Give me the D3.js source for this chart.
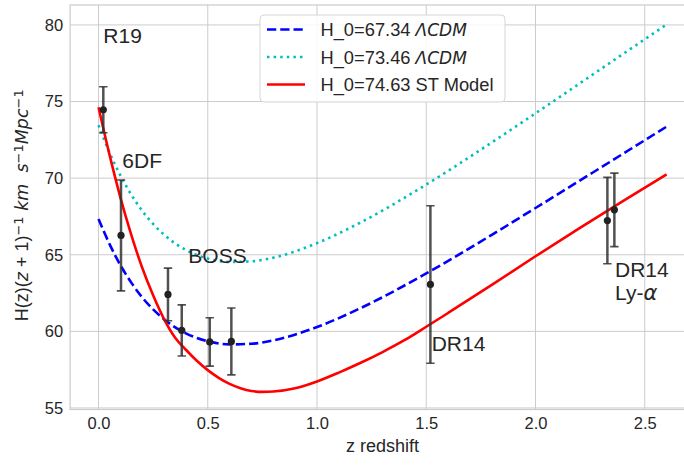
<!DOCTYPE html>
<html>
<head>
<meta charset="utf-8">
<script src="https://cdn.jsdelivr.net/npm/d3@7"></script>
<style>
  body { margin: 0; background: #fff; }
  svg { display: block; font-family: "Liberation Sans", Arial, sans-serif; }
</style>
</head>
<body>
<div id="chart"></div>
<script>
// ----- data -----
const zModel = [0, 0.05, 0.1, 0.15, 0.2, 0.3, 0.4, 0.5, 0.6, 0.7, 0.8, 1.0, 1.2, 1.5, 1.8, 2.0, 2.3, 2.6];
const lcdmLow = [67.34, 65.71, 64.33, 63.18, 62.22, 60.79, 59.87, 59.36, 59.15, 59.19, 59.41, 60.28, 61.52, 63.78, 66.30, 68.05, 70.70, 73.36];
const lcdmHigh = [73.46, 71.68, 70.18, 68.92, 67.87, 66.31, 65.31, 64.75, 64.53, 64.57, 64.81, 65.76, 67.11, 69.58, 72.33, 74.23, 77.13, 80.03];

// ST model curve, read on a finer z grid
const zST = [0, 0.05, 0.1, 0.15, 0.2, 0.25, 0.3, 0.35, 0.4, 0.45, 0.5, 0.55, 0.6, 0.65, 0.7, 0.75, 0.8, 0.9, 1.0, 1.1, 1.2, 1.3, 1.4, 1.5, 1.6, 1.8, 2.0, 2.2, 2.4, 2.6];
const stModel = [74.63, 71.55, 68.75, 66.3, 64.15, 62.35, 60.8, 59.6, 58.8, 58.08, 57.47, 56.97, 56.57, 56.29, 56.11, 56.05, 56.07, 56.28, 56.73, 57.31, 57.95, 58.65, 59.42, 60.3, 61.2, 63.03, 64.9, 66.72, 68.5, 70.25];

const zObs = [0.022, 0.103, 0.318, 0.381, 0.509, 0.608, 1.519, 2.329, 2.361];
const hObs = [74.46, 66.26, 62.41, 60.06, 59.31, 59.34, 63.06, 67.23, 67.93];
const hErr = [1.5, 3.62, 1.72, 1.67, 1.58, 2.18, 5.14, 2.82, 2.4];

const xTicks = [0, 0.5, 1.0, 1.5, 2.0, 2.5];
const yTicks = [55, 60, 65, 70, 75, 80];

// annotation anchors in data coords (left, baseline)
const notes = [
  { z: 0.022, h: 78.83, lines: ["R19"] },
  { z: 0.109, h: 70.65, lines: ["6DF"] },
  { z: 0.411, h: 64.46, lines: ["BOSS"] },
  { z: 1.525, h: 58.69, lines: ["DR14"] },
  { z: 2.364, h: 63.54, lines: ["DR14", "Ly-"] }
];

const series = [
  { label: "H_0=67.34 ", math: "ΛCDM", z: zModel, values: lcdmLow, color: "#0000ff", dash: "9.25,4" },
  { label: "H_0=73.46 ", math: "ΛCDM", z: zModel, values: lcdmHigh, color: "#00bfbf", dash: "2.5,4.1" },
  { label: "H_0=74.63 ST Model", math: "", z: zST, values: stModel, color: "#ff0000", dash: null }
];

// ----- layout -----
const W = 684, H = 466;
const plot = { left: 70.1, right: 695, top: 5, bottom: 409.5 };

const svg = d3.select("#chart").append("svg")
  .attr("width", W)
  .attr("height", H);

const x = d3.scaleLinear().domain([-0.13, 2.73]).range([plot.left, plot.right]);
const y = d3.scaleLinear().domain([54.9, 81.3]).range([plot.bottom, plot.top]);

svg.append("clipPath").attr("id", "clip")
  .append("rect")
  .attr("x", plot.left).attr("y", plot.top)
  .attr("width", plot.right - plot.left).attr("height", plot.bottom - plot.top);

// grid
const grid = svg.append("g");
grid.selectAll(".gx").data(xTicks).enter().append("line")
  .attr("x1", d => x(d)).attr("x2", d => x(d))
  .attr("y1", plot.top).attr("y2", plot.bottom)
  .attr("stroke", "#cccccc").attr("stroke-width", 1);
grid.selectAll(".gy").data(yTicks).enter().append("line")
  .attr("x1", plot.left).attr("x2", plot.right)
  .attr("y1", d => y(d)).attr("y2", d => y(d))
  .attr("stroke", "#cccccc").attr("stroke-width", 1);

// spines
svg.append("rect")
  .attr("x", plot.left).attr("y", plot.top)
  .attr("width", plot.right - plot.left).attr("height", plot.bottom - plot.top)
  .attr("fill", "none").attr("stroke", "#cccccc").attr("stroke-width", 1.25);

// axes (no tick marks, seaborn whitegrid look)
const xAxis = svg.append("g")
  .attr("transform", `translate(0,${plot.bottom})`)
  .call(d3.axisBottom(x).tickValues(xTicks).tickFormat(d3.format(".1f")).tickSize(0).tickPadding(8));
const yAxis = svg.append("g")
  .attr("transform", `translate(${plot.left},0)`)
  .call(d3.axisLeft(y).tickValues(yTicks).tickSize(0).tickPadding(7));
[xAxis, yAxis].forEach(a => {
  a.select(".domain").remove();
  a.selectAll("text")
    .style("font-family", "'Liberation Sans', Arial, sans-serif")
    .style("font-size", "16.5px")
    .style("fill", "#262626");
});

// axis labels
svg.append("text")
  .attr("x", (plot.left + plot.right) / 2)
  .attr("y", 452)
  .attr("text-anchor", "middle")
  .style("font-size", "18px")
  .style("fill", "#262626")
  .text("z redshift");

const ylab = svg.append("text")
  .attr("transform", `translate(28,${(plot.top + plot.bottom) / 2 - 2}) rotate(-90)`)
  .attr("text-anchor", "middle")
  .style("font-size", "18px")
  .style("fill", "#262626");
const mathFont = "'DejaVu Sans', sans-serif";
const yParts = [
  { t: "H(z)(", it: false },
  { t: "z", it: true },
  { t: " + 1)", it: false },
  { t: "−1", sup: true },
  { t: " km  ", it: true },
  { t: "s", it: true },
  { t: "−1", sup: true },
  { t: "Mpc", it: true },
  { t: "−1", sup: true }
];
yParts.forEach(p => {
  const ts = ylab.append("tspan").text(p.t).attr("xml:space", "preserve");
  if (p.it) ts.style("font-family", mathFont).style("font-style", "italic").style("font-size", "17.5px");
  if (p.sup) ts.attr("baseline-shift", "40%").style("font-size", "13px").style("font-family", mathFont);
});

// model curves
const body = svg.append("g").attr("clip-path", "url(#clip)");

series.forEach(s => {
  const line = d3.line()
    .x((d, i) => x(s.z[i]))
    .y(d => y(d))
    .curve(d3.curveMonotoneX);
  body.append("path")
    .datum(s.values)
    .attr("d", line)
    .attr("fill", "none")
    .attr("stroke", s.color)
    .attr("stroke-width", 2.6)
    .attr("stroke-dasharray", s.dash);
});

// error bars
const obs = zObs.map((z, i) => ({ z, h: hObs[i], e: hErr[i] }));
const eb = body.append("g")
  .attr("stroke", "#333333")
  .attr("stroke-opacity", 0.85)
  .attr("stroke-width", 2.5);
eb.selectAll(".bar").data(obs).enter().append("line")
  .attr("x1", d => x(d.z)).attr("x2", d => x(d.z))
  .attr("y1", d => y(d.h - d.e)).attr("y2", d => y(d.h + d.e));
eb.selectAll(".capT").data(obs).enter().append("line")
  .attr("x1", d => x(d.z) - 4.2).attr("x2", d => x(d.z) + 4.2)
  .attr("y1", d => y(d.h + d.e)).attr("y2", d => y(d.h + d.e))
  .attr("stroke-width", 1.6);
eb.selectAll(".capB").data(obs).enter().append("line")
  .attr("x1", d => x(d.z) - 4.2).attr("x2", d => x(d.z) + 4.2)
  .attr("y1", d => y(d.h - d.e)).attr("y2", d => y(d.h - d.e))
  .attr("stroke-width", 1.6);
body.selectAll(".pt").data(obs).enter().append("circle")
  .attr("cx", d => x(d.z)).attr("cy", d => y(d.h))
  .attr("r", 3.6)
  .attr("fill", "#222222");

// annotations
notes.forEach(n => {
  const t = svg.append("text")
    .attr("x", x(n.z)).attr("y", y(n.h))
    .style("font-size", "21px")
    .style("fill", "#262626");
  n.lines.forEach((l, i) => {
    t.append("tspan").attr("x", x(n.z)).attr("dy", i === 0 ? 0 : 23).text(l);
    if (l === "Ly-") {
      t.append("tspan").text("α")
        .style("font-family", mathFont).style("font-style", "italic");
    }
  });
});

// legend
const lg = svg.append("g");
lg.append("rect")
  .attr("x", 260).attr("y", 15)
  .attr("width", 245).attr("height", 87)
  .attr("rx", 4)
  .attr("fill", "#ffffff").attr("fill-opacity", 0.85)
  .attr("stroke", "#d6d6d6").attr("stroke-width", 1);
series.forEach((s, i) => {
  const cy = 29.5 + i * 27.5;
  lg.append("line")
    .attr("x1", 267).attr("x2", 305)
    .attr("y1", cy).attr("y2", cy)
    .attr("stroke", s.color).attr("stroke-width", 2.6)
    .attr("stroke-dasharray", s.dash);
  const t = lg.append("text")
    .attr("x", 320.5).attr("y", cy + 6.5)
    .style("font-size", "18.3px")
    .style("fill", "#262626")
    .attr("xml:space", "preserve");
  t.append("tspan").text(s.label);
  if (s.math) {
    t.append("tspan").text(s.math)
      .style("font-family", mathFont).style("font-style", "italic").style("font-size", "17px");
  }
});
</script>
</body>
</html>
